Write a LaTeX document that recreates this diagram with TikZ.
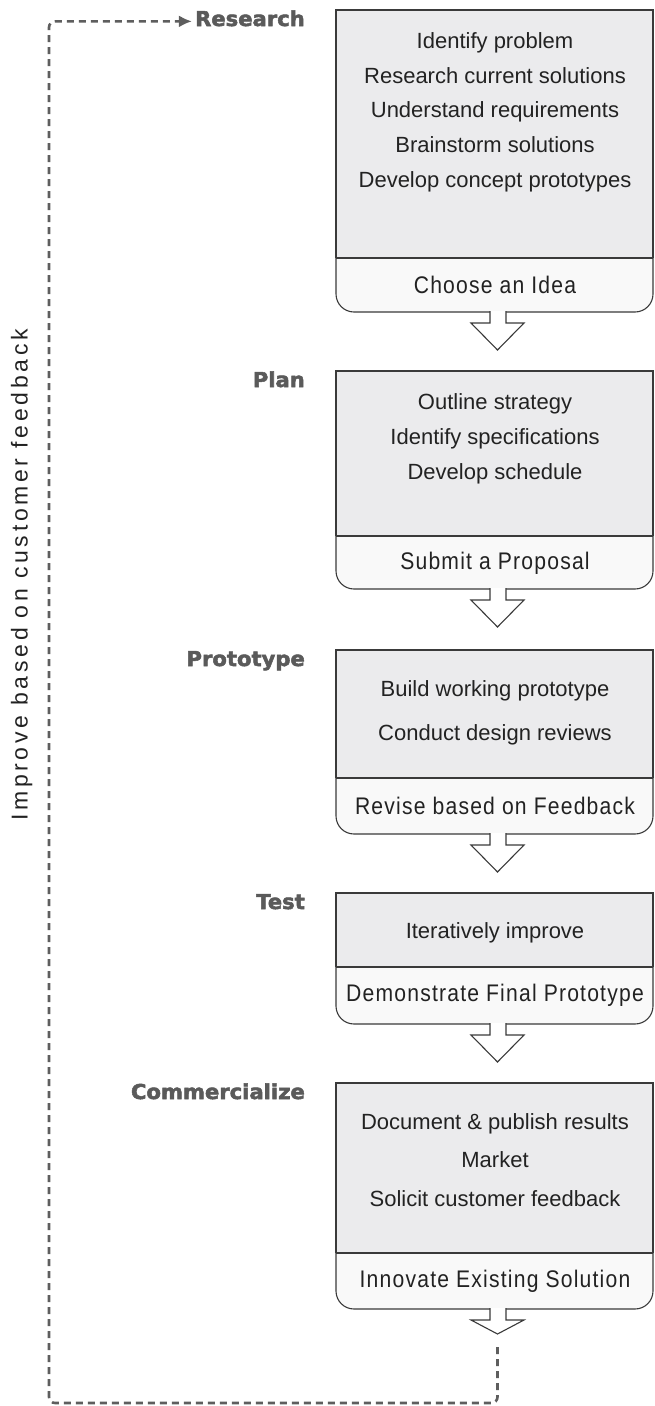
\documentclass[tikz,border=0pt]{standalone}
\usepackage{fontspec}
\setmainfont{Liberation Sans}
\newfontfamily\narrowfont[FakeStretch=0.88,LetterSpace=5]{Liberation Sans}
\newfontfamily\spreadfont[LetterSpace=16]{Liberation Sans}
\newfontfamily\titlefont[FakeStretch=1.03,FakeBold=2.5]{DejaVu Sans}
\usetikzlibrary{positioning,arrows.meta}

\definecolor{boxgray}{HTML}{EBEBED}
\definecolor{boxlight}{HTML}{F9F9F9}
\definecolor{edgegray}{HTML}{3A3A3A}
\definecolor{titlegray}{HTML}{5A5A5A}
\definecolor{loopgray}{HTML}{5E5E5E}
\definecolor{inkgray}{HTML}{222222}

\tikzset{
  stage/.style={anchor=base east, inner sep=3pt, text=titlegray,
    font=\titlefont\bfseries\fontsize{20.5}{24}\selectfont},
  item/.style={inner sep=0pt, text height=16pt, text depth=5pt, text=inkgray,
    font=\fontsize{22}{26}\selectfont},
  outcome/.style={inner sep=0pt, text=inkgray,
    font=\narrowfont\fontsize{24}{28}\selectfont},
  loopline/.style={draw=loopgray, line width=2.6pt, dash pattern=on 7pt off 5pt,
    rounded corners=6pt},
}

\begin{document}
\begin{tikzpicture}[x=1pt,y=-1pt]
\useasboundingbox (0,0) rectangle (654,1406);

% boxes: top / divider / bottom / head length
\foreach \t/\d/\b/\h in {10/258/312/27, 371/536/589/27, 650/778/834/27,
                          893/967/1024/27, 1083/1253/1309/14}{
  \fill[boxlight, rounded corners=18pt] (336,\d-25) rectangle (653,\b);
  \fill[boxgray] (336,\t) rectangle (653,\d);
  \draw[edgegray, line width=1.1pt] (336,\d) -- (336,\t) -- (653,\t) -- (653,\d);
  \draw[edgegray, line width=1.1pt, rounded corners=18pt]
    (336,\d) -- (336,\b) -- (653,\b) -- (653,\d);
  \draw[edgegray, line width=1.1pt] (336,\d) -- (653,\d);
  \filldraw[fill=white, draw=edgegray, line width=1.1pt]
    (490,\b-0.8) -- (490,\b+11) -- (471,\b+11) -- (497.5,\b+11+\h)
    -- (524,\b+11) -- (506,\b+11) -- (506,\b-0.8);
}

\node[stage] (research) at (308,26) {Research};
\node[stage] (plan) at (308,387) {Plan};
\node[stage] (prototype) at (308,666) {Prototype};
\node[stage] (test) at (308,909) {Test};
\node[stage] (commercialize) at (308,1099) {Commercialize};

\node[item] (r1) at (495,43) {Identify problem};
\node[item, below=13.3pt of r1] (r2) {Research current solutions};
\node[item, below=13.3pt of r2] (r3) {Understand requirements};
\node[item, below=13.3pt of r3] (r4) {Brainstorm solutions};
\node[item, below=13.3pt of r4] (r5) {Develop concept prototypes};
\node[outcome] (idea) at (495,285) {Choose an Idea};

\node[item] (p1) at (495,404) {Outline strategy};
\node[item, below=13.5pt of p1] (p2) {Identify specifications};
\node[item, below=13.5pt of p2] (p3) {Develop schedule};
\node[outcome] (proposal) at (495,563) {Submit a Proposal};

\node[item] (b1) at (495,691) {Build working prototype};
\node[item, below=23pt of b1] (b2) {Conduct design reviews};
\node[outcome] (revise) at (495,806) {Revise based on Feedback};

\node[item] (t1) at (495,933) {Iteratively improve};
\node[outcome] (demo) at (495,995) {Demonstrate Final Prototype};

\node[item] (c1) at (495,1124) {Document \& publish results};
\node[item, below=17pt of c1] (c2) {Market};
\node[item, below=17pt of c2] (c3) {Solicit customer feedback};
\node[outcome] (innovate) at (495,1281) {Innovate Existing Solution};

\node[item, font=\spreadfont\fontsize{23}{27}\selectfont, rotate=90]
  (feedback) at (22,575) {Improve based on customer feedback};

% feedback loop
\coordinate (loopstart) at (497.5,1347);
\coordinate (loopcorner) at (49,1403);
\draw[loopline, -{Latex[length=13pt,width=12pt]}]
  (loopstart) |- (loopcorner) |- ([yshift=-3pt]research.west);
\end{tikzpicture}
\end{document}
